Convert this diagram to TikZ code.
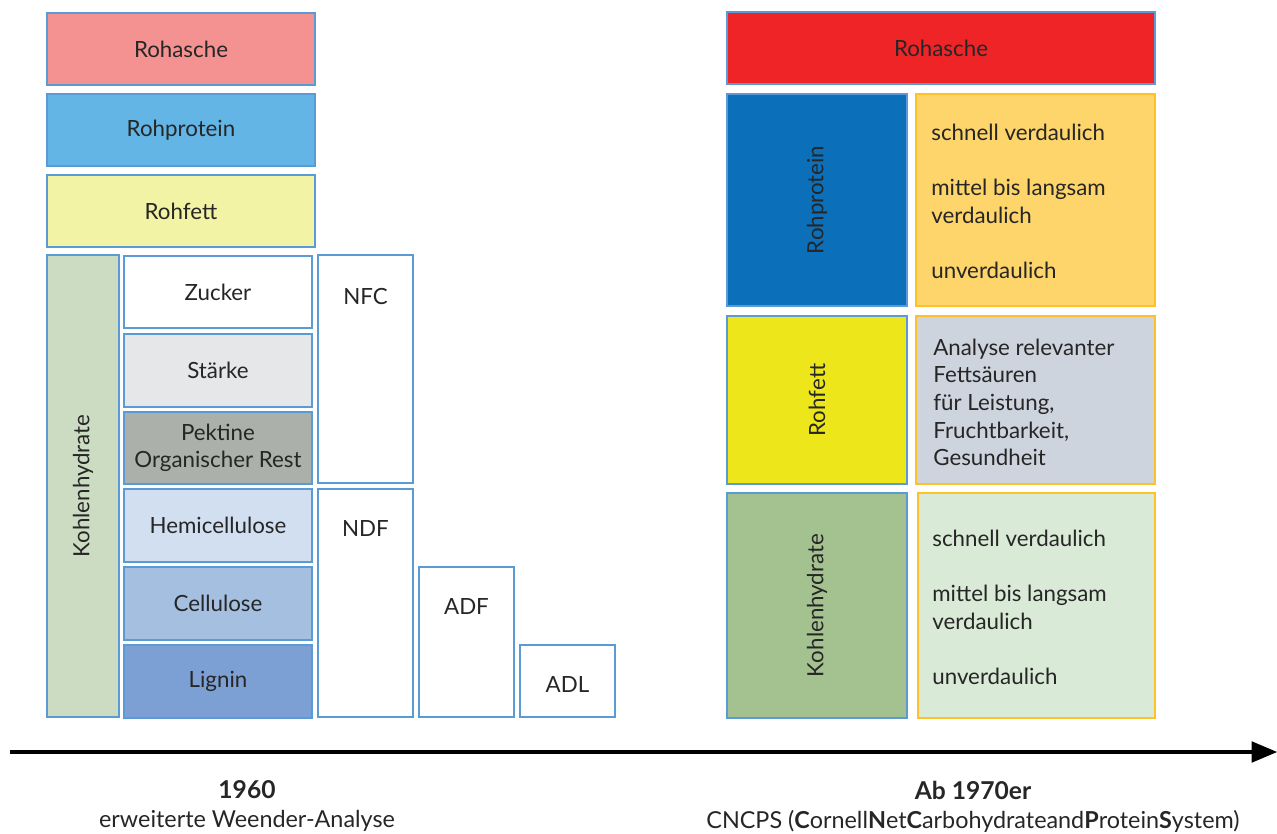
\documentclass[tikz,border=0pt]{standalone}
\usepackage{fontspec}
\setmainfont{Lato}
\usepackage{tikz}
\usetikzlibrary{arrows}

\definecolor{frame}{HTML}{5B9BD5}
\definecolor{gold}{HTML}{FFC12A}
\definecolor{ink}{HTML}{262626}
\definecolor{ashpink}{HTML}{F39291}
\definecolor{protlight}{HTML}{63B5E5}
\definecolor{fatpale}{HTML}{F3F3A5}
\definecolor{carbsage}{HTML}{CCDCC2}
\definecolor{starch}{HTML}{E6E7E8}
\definecolor{pectin}{HTML}{ABB1AA}
\definecolor{hemi}{HTML}{D1DFF1}
\definecolor{cellu}{HTML}{A5BFE1}
\definecolor{lignin}{HTML}{7C9FD4}
\definecolor{ashred}{HTML}{EE2426}
\definecolor{protdark}{HTML}{0B6FB9}
\definecolor{protsub}{HTML}{FDD56A}
\definecolor{fatyellow}{HTML}{EDE61A}
\definecolor{fatsub}{HTML}{CED4DE}
\definecolor{carbgreen}{HTML}{A4C190}
\definecolor{carbsub}{HTML}{D9EBD6}

\begin{document}
\begin{tikzpicture}[x=0.02cm,y=-0.02cm,>=triangle 45,
  font=\fontsize{12.7}{15.7}\selectfont,text=ink,
  box/.style={rectangle,draw=frame,line width=1.2pt,inner sep=0pt},
  wide box/.style={box,minimum width=5.36cm,minimum height=1.44cm},
  part box/.style={box,minimum width=3.76cm,minimum height=1.45cm},
  frac box/.style={box,fill=white,minimum width=1.9cm},
  side box/.style={box,minimum width=3.6cm},
  info box/.style={box,draw=gold,minimum width=4.78cm},
  info text/.style={anchor=north west,align=left,inner sep=0pt},
  year/.style={font=\fontsize{14}{16}\selectfont\bfseries},
  caption/.style={font=\fontsize{13.3}{16}\selectfont}]
  \useasboundingbox (0,0) rectangle (1277,834);

  % 1960: Weender
  \node[wide box,fill=ashpink] (ash1) at (181,49) {Rohasche};
  \node[wide box,fill=protlight] (prot1) at (181,130) {Rohprotein};
  \node[wide box,fill=fatpale] (fat1) at (181,211) {Rohfett};
  \node[box,fill=carbsage,minimum width=1.44cm,minimum height=9.24cm] (carb1) at (83,486) {};
  \node[rotate=90] (carb1txt) at (carb1) {Kohlenhydrate};

  \node[part box,fill=white] (sugar) at (218,292) {Zucker};
  \node[part box,fill=starch] (starch) at (218,370.5) {Stärke};
  \node[part box,fill=pectin,align=center] (pectin) at (218,448) {Pektine\\Organischer Rest};
  \node[part box,fill=hemi] (hemi) at (218,525.5) {Hemicellulose};
  \node[part box,fill=cellu] (cellu) at (218,603.5) {Cellulose};
  \node[part box,fill=lignin] (lignin) at (218,681.5) {Lignin};

  \node[frac box,minimum height=4.56cm] (nfc) at (365.5,369) {};
  \node (nfctxt) at (365.5,296.5) {NFC};
  \node[frac box,minimum height=4.56cm] (ndf) at (365.5,603) {};
  \node (ndftxt) at (365.5,528.5) {NDF};
  \node[frac box,minimum height=3.0cm] (adf) at (466.5,642) {};
  \node (adftxt) at (466.5,606.5) {ADF};
  \node[frac box,minimum height=1.44cm] (adl) at (567.5,681) {};
  \node (adltxt) at (567.5,684.5) {ADL};

  % ab 1970: CNCPS
  \node[box,fill=ashred,minimum width=8.56cm,minimum height=1.44cm] (ash2) at (941,48) {Rohasche};

  \node[side box,fill=protdark,minimum height=4.24cm] (prot2) at (817,200) {};
  \node[rotate=90] (prot2txt) at (prot2) {Rohprotein};
  \node[info box,fill=protsub,minimum height=4.24cm] (protinfo) at (1035.5,200) {};
  \node[info text] (protinfotxt) at (931,123.5) {schnell verdaulich\\[15.7pt]
    mittel bis langsam\\verdaulich\\[15.7pt]unverdaulich};

  \node[side box,fill=fatyellow,minimum height=3.36cm] (fat2) at (817,400) {};
  \node[rotate=90] (fat2txt) at (fat2) {Rohfett};
  \node[info box,fill=fatsub,minimum height=3.36cm] (fatinfo) at (1035.5,400) {};
  \node[info text] (fatinfotxt) at (933,338.5) {Analyse relevanter\\Fettsäuren\\für Leistung,\\
    Fruchtbarkeit,\\Gesundheit};

  \node[side box,fill=carbgreen,minimum height=4.5cm] (carb2) at (817,605.5) {};
  \node[rotate=90] (carb2txt) at (carb2) {Kohlenhydrate};
  \node[info box,fill=carbsub,minimum width=4.74cm,minimum height=4.5cm] (carbinfo) at (1036.5,605.5) {};
  \node[info text] (carbinfotxt) at (932,529.5) {schnell verdaulich\\[15.7pt]
    mittel bis langsam\\verdaulich\\[15.7pt]unverdaulich};

  % Zeitachse
  \coordinate (tstart) at (10,752);
  \coordinate (tend) at (1277,752);
  \draw[->,line width=2.4pt,black] (tstart) -- (tend);

  \node[year] (y1960) at (247,790) {1960};
  \node[caption] (weender) at (247,821) {erweiterte Weender-Analyse};
  \node[year] (y1970) at (973,790) {Ab 1970er};
  \node[caption] (cncps) at (973,821) {CNCPS (\textbf{C}ornell\textbf{N}et\textbf{C}arbohydrateand\textbf{P}rotein\textbf{S}ystem)};
\end{tikzpicture}
\end{document}
